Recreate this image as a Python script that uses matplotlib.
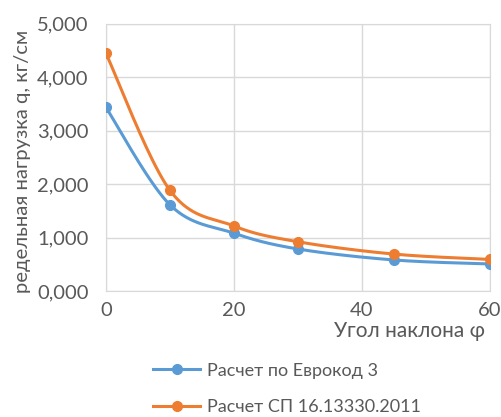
import numpy as np
import matplotlib
matplotlib.use("Agg")
import matplotlib.pyplot as plt
from matplotlib.transforms import Bbox

plt.rcParams['font.family'] = ['Lato', 'Open Sans', 'DejaVu Sans']

# angle of inclination, degrees
angles = [0, 10, 20, 30, 45, 60]
# ultimate load q, kg/cm
q_eurocode = [3.43, 1.61, 1.08, 0.785, 0.58, 0.505]
q_sp = [4.44, 1.88, 1.215, 0.92, 0.69, 0.59]

names = ["Расчет по Еврокод 3", "Расчет СП 16.13330.2011"]
ytick_labels = ["0,000", "1,000", "2,000", "3,000", "4,000", "5,000"]
colors = ["#5B9BD5", "#ED7D31"]
text_color = "#595959"
grid_color = "#D9D9D9"


def smooth(xs, ys, n=40):
    # bezier spline through the points, same kind as spreadsheet "smoothed line"
    p = np.column_stack([xs, ys]).astype(float)
    ext = np.vstack([p[0], p, p[-1]])
    out = []
    t = np.linspace(0, 1, n)[:, None]
    for i in range(len(p) - 1):
        p0, p1 = ext[i + 1], ext[i + 2]
        c1 = p0 + (ext[i + 2] - ext[i]) / 6
        c2 = p1 - (ext[i + 3] - ext[i + 1]) / 6
        seg = ((1 - t) ** 3) * p0 + 3 * ((1 - t) ** 2) * t * c1 \
            + 3 * (1 - t) * t ** 2 * c2 + t ** 3 * p1
        out.append(seg if i == 0 else seg[1:])
    out = np.vstack(out)
    return out[:, 0], out[:, 1]


fig = plt.figure(figsize=(5.01, 4.17), dpi=100)
ax = fig.add_axes([106 / 501, 1 - 291 / 417, 384 / 501, 267.5 / 417])

for ys, name, c in zip([q_eurocode, q_sp], names, colors):
    sx, sy = smooth(angles, ys)
    ax.plot(sx, sy, color=c, lw=2.2, solid_capstyle='round', zorder=3)
    ax.plot(angles, ys, 'o', color=c, ms=7, zorder=4)
    ax.plot([], [], '-o', color=c, lw=2.2, ms=7, label=name)

ax.set_xlim(0, 60)
ax.set_ylim(0, 5)
ax.set_xticks([0, 20, 40, 60])
ax.set_yticks(range(len(ytick_labels)))
ax.set_yticklabels(ytick_labels)
ax.grid(True, color=grid_color, lw=1)
ax.set_axisbelow(True)
for s in ax.spines.values():
    s.set_color(grid_color)
ax.tick_params(length=0, labelsize=14.5, colors=text_color)
ax.tick_params(axis='y', pad=12.5)
ax.tick_params(axis='x', pad=8)

fig.text(485 / 501, 1 - 331 / 417, "Угол наклона φ", ha='right', va='center',
         fontsize=15, color=text_color)

ylab = fig.text(23 / 501, 1 - 30 / 417, "Предельная нагрузка q, кг/см", rotation=90,
                ha='center', va='top', fontsize=14.6, color=text_color)
ylab.set_clip_on(True)
ylab.set_clip_box(Bbox.from_extents(0, 417 - 293, 501, 417))

handles, labels = ax.get_legend_handles_labels()
fig.legend(handles, labels, loc='center left', bbox_to_anchor=(137 / 501, 1 - 389 / 417),
           frameon=False, fontsize=13, labelcolor=text_color, handlelength=2.6,
           handletextpad=0.35, labelspacing=1.15)

fig.savefig("out.png", dpi=100)
